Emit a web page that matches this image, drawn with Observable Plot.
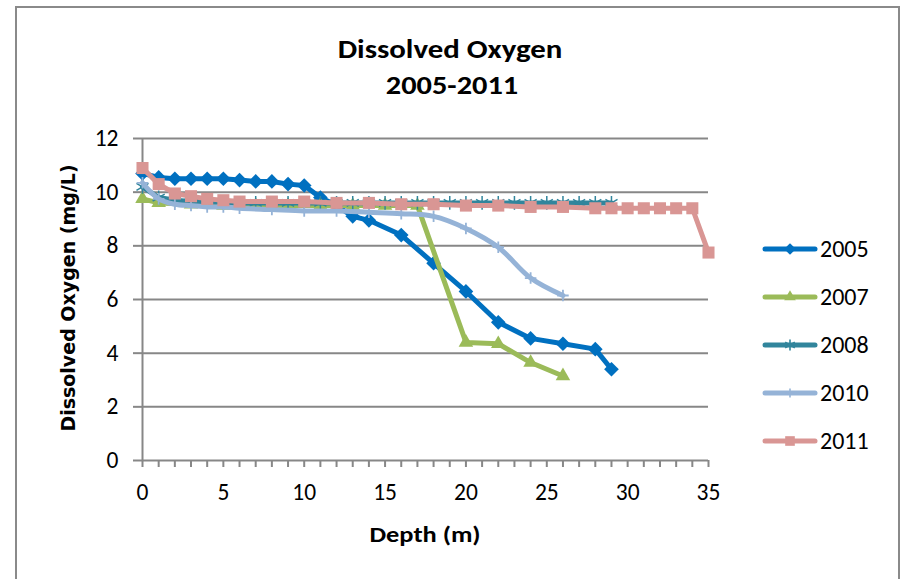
<!DOCTYPE html>
<html><head><meta charset="utf-8">
<script src="https://cdn.jsdelivr.net/npm/d3@7"></script>
<script src="https://cdn.jsdelivr.net/npm/@observablehq/plot@0.6"></script>
<style>
html,body{margin:0;padding:0;background:#fff;overflow:hidden;}
#wrap{position:relative;width:906px;height:579px;overflow:hidden;font-family:Carlito,Lato,"Open Sans",sans-serif;color:#000;}
#wrap svg.plot{position:absolute;left:0;top:0;}
.frame{position:absolute;left:15px;top:6px;width:885px;height:620px;border:2px solid #8a8a8a;box-sizing:border-box;}
.t{position:absolute;white-space:nowrap;font-weight:bold;line-height:1;}
.leg{position:absolute;left:762px;}
.leg span{position:absolute;left:58px;top:50%;transform:translateY(-50%);font-size:24px;line-height:1;}
</style></head><body><div id="wrap"><div class="frame"></div></div>
<script>
const years = ["2005","2007","2008","2010","2011"];
const colors = ["#0070C0","#9BBB59","#31859C","#95B3D7","#D99694"];
const symbols = ["diamond2","triangle","asterisk","plus","square"];

const depth2005 = [0,1,2,3,4,5,6,7,8,9,10,11,12,13,14,16,18,20,22,24,26,28,29];
const do2005 = [10.7,10.55,10.5,10.5,10.5,10.5,10.45,10.4,10.4,10.3,10.25,9.8,9.5,9.1,8.95,8.4,7.35,6.3,5.15,4.55,4.35,4.15,3.4];
const depth2007 = [0,1,3,5,7,9,11,13,15,17,20,22,24,26];
const do2007 = [9.75,9.6,9.55,9.5,9.5,9.5,9.5,9.5,9.5,9.5,4.4,4.35,3.65,3.15];
const depth2008 = [0,1,2,3,4,5,6,7,8,9,10,11,12,13,14,15,16,17,18,19,20,21,22,23,24,25,26,27,28,29];
const do2008 = [10.2,9.8,9.7,9.65,9.65,9.6,9.6,9.6,9.6,9.6,9.6,9.6,9.6,9.6,9.6,9.6,9.6,9.6,9.6,9.6,9.6,9.6,9.6,9.6,9.6,9.6,9.6,9.6,9.6,9.6];
const depth2010 = [0,1,2,3,4,5,6,8,10,12,14,16,18,20,22,24,26];
const do2010 = [10.35,9.75,9.55,9.5,9.45,9.45,9.4,9.35,9.3,9.3,9.25,9.2,9.1,8.65,7.95,6.8,6.15];
const depth2011 = [0,1,2,3,4,5,6,8,10,12,14,16,18,20,22,24,26,28,29,30,31,32,33,34,35];
const do2011 = [10.9,10.3,9.95,9.85,9.75,9.7,9.65,9.65,9.65,9.6,9.6,9.55,9.55,9.5,9.5,9.45,9.45,9.4,9.4,9.4,9.4,9.4,9.4,9.4,7.75];

const xTickLabels = [0,5,10,15,20,25,30,35];
const xMinorTicks = [0,1,2,3,4,5,6,7,8,9,10,11,12,13,14,15,16,17,18,19,20,21,22,23,24,25,26,27,28,29,30,31,32,33,34,35];
const yTicks = [0,2,4,6,8,10,12];

const depths = [depth2005,depth2007,depth2008,depth2010,depth2011];
const values = [do2005,do2007,do2008,do2010,do2011];
const series = years.map((yr,i)=>depths[i].map((d,j)=>({year:yr, depth:d, value:values[i][j]})));

const gray = "#878787";
const font = "Carlito,Lato,'Open Sans',sans-serif";
const symR = {diamond2: 6.6, triangle: 5.4, asterisk: 6.6, plus: 3.8, square: 6.8};
const marks = [
  Plot.gridY(yTicks, {stroke: gray, strokeOpacity: 1, strokeWidth: 2}),
  Plot.ruleX([0], {stroke: gray, strokeWidth: 2}),
  Plot.axisY({ticks: yTicks, tickSize: 9, tickPadding: 15, stroke: gray, strokeWidth: 2, fontSize: 23.5, label: null, fill: "#000"}),
  Plot.axisX({ticks: xMinorTicks, tickSize: 7, tickFormat: () => "", stroke: gray, strokeWidth: 2, label: null}),
  Plot.axisX({ticks: xTickLabels, tickSize: 0, tickPadding: 23, fontSize: 23.5, label: null, fill: "#000"})
];
series.forEach((s,i)=>{
  marks.push(Plot.line(s, {x:"depth", y:"value", stroke: colors[i], strokeWidth: 5,
    strokeLinejoin: "round", strokeLinecap: "round", curve: i===3 ? "catmull-rom" : "linear"}));
  const sym = symbols[i];
  const stroked = (sym === "asterisk" || sym === "plus");
  const r = symR[sym];
  marks.push(Plot.dot(s, stroked
    ? {x:"depth", y:"value", symbol: sym, r, stroke: colors[i], strokeWidth: sym === "asterisk" ? 1.5 : 1.8, fill: "none"}
    : {x:"depth", y:"value", symbol: sym, r, fill: colors[i], stroke: "none"}));
});

const chart = Plot.plot({
  width: 906, height: 579,
  marginLeft: 142, marginRight: 198, marginTop: 138, marginBottom: 119,
  x: {domain: [0,35]},
  y: {domain: [0,12]},
  style: {fontFamily: font, background: "transparent", overflow: "visible"},
  marks
});
chart.classList.add("plot");
const wrap = document.getElementById("wrap");
wrap.appendChild(chart);

function addText(txt, x, y, size, sx, rot, fam) {
  const d = document.createElement("div");
  d.className = "t";
  d.textContent = txt;
  d.style.left = x + "px"; d.style.top = y + "px"; d.style.fontSize = size + "px";
  if (fam) d.style.fontFamily = fam;
  d.style.transform = "translate(-50%,-50%)" + (rot ? " rotate(-90deg)" : "") + " scaleX(" + sx + ")";
  wrap.appendChild(d);
}
addText("Dissolved Oxygen", 450, 50, 25.5, 1.21);
addText("2005-2011", 452, 86, 25.5, 1.19);
addText("Dissolved Oxygen (mg/L)", 68, 298, 19, 1.0, true, "'DejaVu Sans',Verdana,sans-serif");
addText("Depth (m)", 425, 535, 22, 1.2);

// legend
const symMap = {diamond2: d3.symbolDiamond2, triangle: d3.symbolTriangle, asterisk: d3.symbolAsterisk, plus: d3.symbolPlus, square: d3.symbolSquare};
years.forEach((yr,i)=>{
  const row = document.createElement("div");
  row.className = "leg";
  row.style.top = (249 + i*48 - 12) + "px";
  row.style.height = "24px";
  const svg = d3.create("svg").attr("width", 58).attr("height", 24).style("position","absolute").style("left","0").style("top","0");
  svg.append("line").attr("x1", 3).attr("x2", 53).attr("y1", 12).attr("y2", 12)
    .attr("stroke", colors[i]).attr("stroke-width", 5).attr("stroke-linecap", "round");
  const rr = symR[symbols[i]] * 0.8;
  const p = svg.append("path").attr("transform", "translate(28,12)")
    .attr("d", d3.symbol(symMap[symbols[i]], Math.PI*rr*rr)());
  if (symbols[i]==="asterisk" || symbols[i]==="plus") p.attr("fill","none").attr("stroke", colors[i]).attr("stroke-width", 1.6);
  else p.attr("fill", colors[i]);
  row.appendChild(svg.node());
  const sp = document.createElement("span");
  sp.textContent = yr;
  row.appendChild(sp);
  wrap.appendChild(row);
});
</script>
</body></html>
